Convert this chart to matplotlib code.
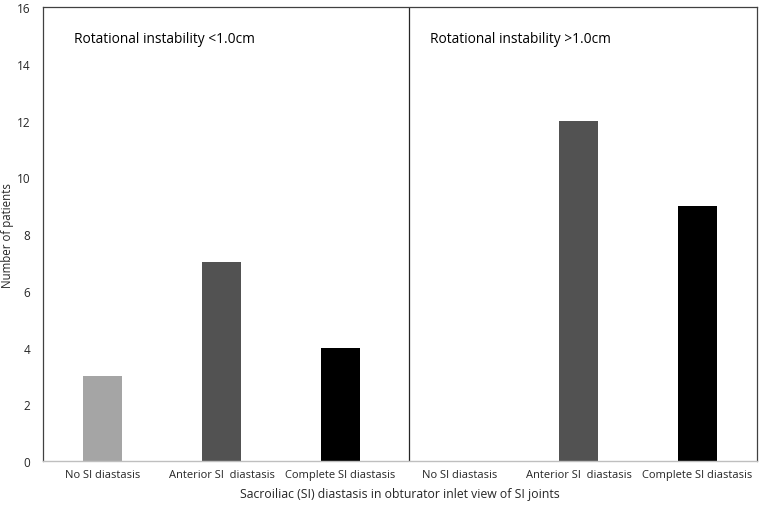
import matplotlib
matplotlib.use("Agg")
import matplotlib.pyplot as plt

categories = ["No SI diastasis", "Anterior SI  diastasis", "Complete SI diastasis",
              "No SI diastasis", "Anterior SI  diastasis", "Complete SI diastasis"]
patients = [3, 7, 4, 0, 12, 9]
group_labels = ["Rotational instability <1.0cm", "Rotational instability >1.0cm"]
bar_colors = ["#a5a5a5", "#525252", "#000000"] * 2
yticks = [0, 2, 4, 6, 8, 10, 12, 14, 16]

plt.rcParams['font.family'] = ['Open Sans', 'DejaVu Sans']

fig = plt.figure(figsize=(7.62, 5.10), dpi=100)
ax = fig.add_axes([0.0564, 0.094, 0.937, 0.890])

x = list(range(len(categories)))
ax.bar(x, patients, width=0.32, color=bar_colors, zorder=2)

ax.set_xlim(-0.5, len(categories) - 0.5)
ax.set_ylim(0, 16)
ax.set_yticks(yticks)
ax.set_xticks(x)
ax.set_xticklabels(categories, fontsize=8, color="#262626")
ax.tick_params(axis="y", labelsize=8.5, colors="#262626", length=0, pad=9)
ax.tick_params(axis="x", length=0, pad=6)

for side in ["left", "top", "right"]:
    ax.spines[side].set_color("#404040")
    ax.spines[side].set_linewidth(0.9)
ax.spines["bottom"].set_color("#bfbfbf")
ax.spines["bottom"].set_linewidth(1.0)

# divider between the two groups
ax.axvline(2.58, color="#262626", linewidth=0.9)

ax.text(-0.24, 14.9, group_labels[0], fontsize=9.9, color="black", va="center")
ax.text(2.75, 14.9, group_labels[1], fontsize=9.9, color="black", va="center")

ax.set_xlabel("Sacroiliac (SI) diastasis in obturator inlet view of SI joints",
              fontsize=8.8, color="#262626", labelpad=5)
ax.set_ylabel("Number of patients", fontsize=8.3, color="#262626", va="center")
ax.yaxis.set_label_coords(-0.049, 0.5)

fig.savefig("out.png", dpi=100)
